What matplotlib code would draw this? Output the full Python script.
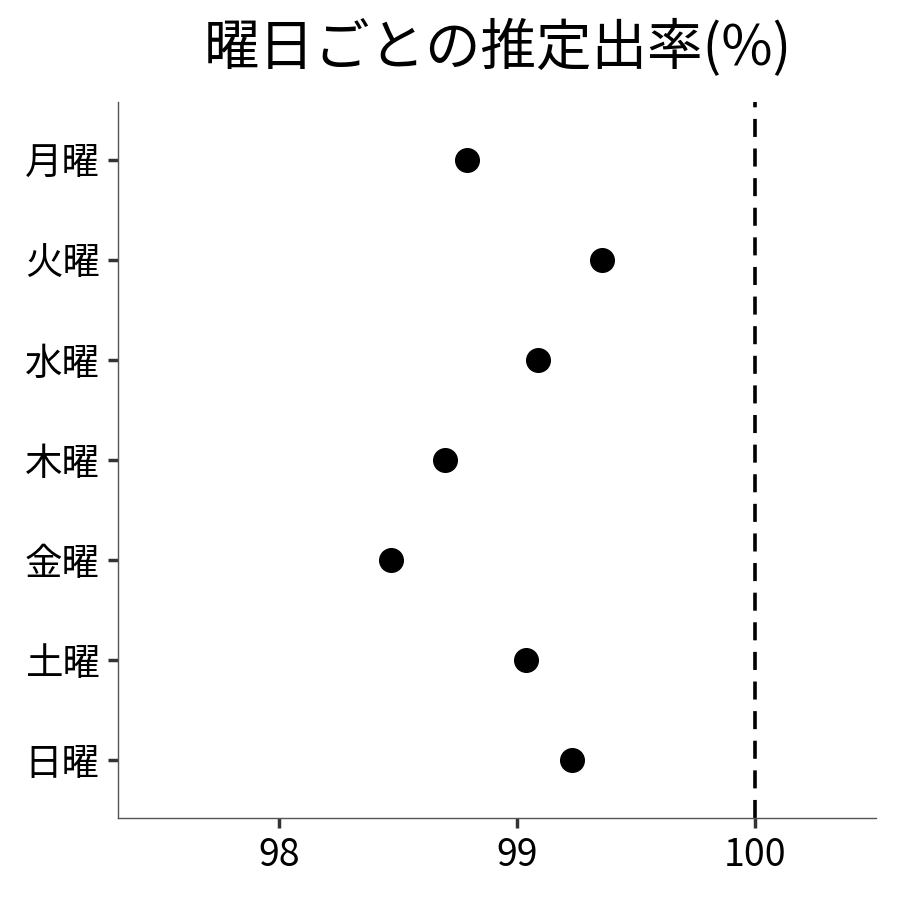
import matplotlib
matplotlib.use('Agg')
import matplotlib.pyplot as plt

plt.rcParams['font.family'] = ['Noto Sans CJK JP', 'DejaVu Sans']

days = ['月曜', '火曜', '水曜', '木曜', '金曜', '土曜', '日曜']
rates = [98.79, 99.36, 99.09, 98.70, 98.47, 99.04, 99.23]
xticks = [98, 99, 100]

fig = plt.figure(figsize=(9, 9), dpi=100)
ax = fig.add_axes([0.131, 0.091, 0.842, 0.796])

ypos = list(range(len(days)))[::-1]
ax.plot(rates, ypos, 'o', color='black', markersize=17, zorder=3)
ax.axvline(100, color='black', linestyle=(0, (5, 3.2)), linewidth=2.6)

ax.set_yticks(ypos)
ax.set_yticklabels(days)
ax.set_xticks(xticks)
ax.set_xticklabels([str(v) for v in xticks])
ax.set_xlim(97.324, 100.508)
ax.set_ylim(-0.58, 6.58)

for s in ['top', 'right']:
    ax.spines[s].set_visible(False)
for s in ['left', 'bottom']:
    ax.spines[s].set_color('#555555')
    ax.spines[s].set_linewidth(1.0)
ax.tick_params(axis='both', colors='#333333', width=2.5, length=7, labelsize=27, labelcolor='black', pad=6)

fig.suptitle('曜日ごとの推定出率(%)', fontsize=40, y=0.978, x=0.553)

fig.savefig('out.png', dpi=100)
